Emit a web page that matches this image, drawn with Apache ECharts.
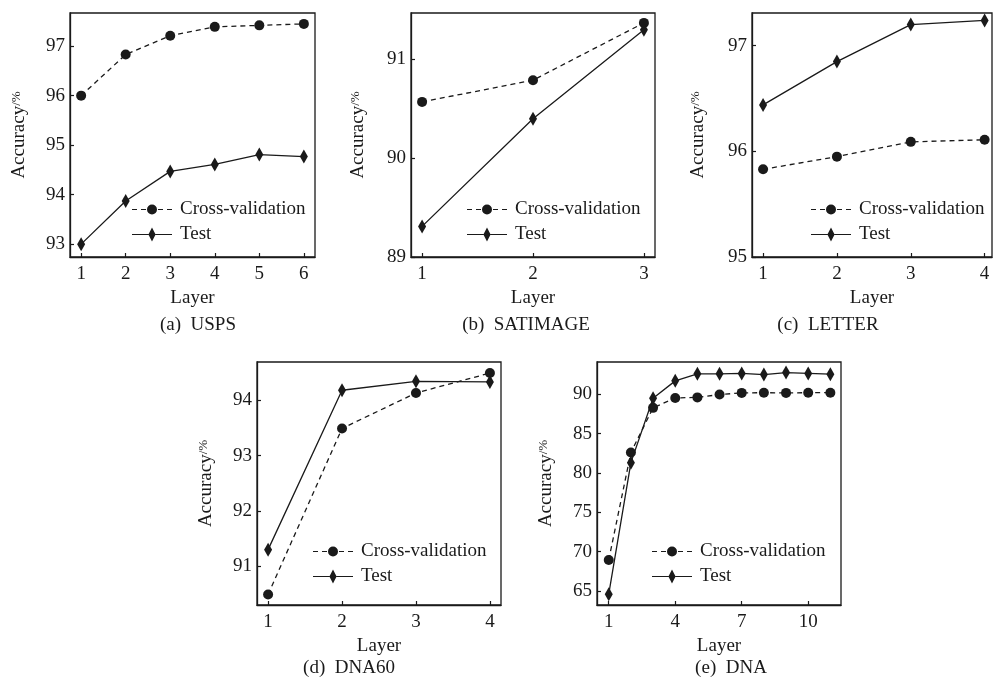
<!DOCTYPE html>
<html>
<head>
<meta charset="utf-8">
<script src="https://cdn.jsdelivr.net/npm/echarts@6/dist/echarts.min.js"></script>
<style>
  html, body { margin: 0; padding: 0; background: #fff; }
  #chart { width: 994px; height: 682px; }
</style>
</head>
<body>
<div id="chart"></div>
<script>
// 各子图的数据
const layersA = [1, 2, 3, 4, 5, 6];
const cvA = [96.0, 96.83, 97.21, 97.39, 97.42, 97.45];
const testA = [93.0, 93.87, 94.47, 94.61, 94.81, 94.77];

const layersB = [1, 2, 3];
const cvB = [90.57, 90.79, 91.37];
const testB = [89.31, 90.40, 91.30];

const layersC = [1, 2, 3, 4];
const cvC = [95.83, 95.95, 96.09, 96.11];
const testC = [96.44, 96.85, 97.20, 97.24];

const layersD = [1, 2, 3, 4];
const cvD = [90.49, 93.49, 94.13, 94.49];
const testD = [91.30, 94.18, 94.34, 94.33];

const layersE = [1, 2, 3, 4, 5, 6, 7, 8, 9, 10, 11];
const cvE = [68.93, 82.6, 88.27, 89.53, 89.6, 89.96, 90.17, 90.2, 90.17, 90.2, 90.2];
const testE = [64.58, 81.3, 89.5, 91.7, 92.6, 92.6, 92.65, 92.5, 92.75, 92.65, 92.55];

// 刻度
const xTicksA = [1, 2, 3, 4, 5, 6];
const yTicksA = [93, 94, 95, 96, 97];
const xTicksB = [1, 2, 3];
const yTicksB = [89, 90, 91];
const xTicksC = [1, 2, 3, 4];
const yTicksC = [95, 96, 97];
const xTicksD = [1, 2, 3, 4];
const yTicksD = [91, 92, 93, 94];
const xTicksE = [1, 4, 7, 10];
const yTicksE = [65, 70, 75, 80, 85, 90];

const captions = ['(a)  USPS', '(b)  SATIMAGE', '(c)  LETTER', '(d)  DNA60', '(e)  DNA'];
const seriesNames = ['Cross-validation', 'Test'];

// 布局（像素）
const panels = [
  { layers: layersA, cv: cvA, test: testA, xTicks: xTicksA, yTicks: yTicksA,
    grid: [70, 13, 245, 244], x: [0.75, 6.25], y: [92.74, 97.67], yGap: 41,
    legend: [132, 200], cap: [198, 325] },
  { layers: layersB, cv: cvB, test: testB, xTicks: xTicksB, yTicks: yTicksB,
    grid: [411, 13, 244, 244], x: [0.9, 3.1], y: [89, 91.47], yGap: 43,
    legend: [467, 200], cap: [526, 325] },
  { layers: layersC, cv: cvC, test: testC, xTicks: xTicksC, yTicks: yTicksC,
    grid: [752, 13, 240, 244], x: [0.85, 4.1], y: [95, 97.31], yGap: 44,
    legend: [811, 200], cap: [828, 325] },
  { layers: layersD, cv: cvD, test: testD, xTicks: xTicksD, yTicks: yTicksD,
    grid: [257, 362, 244, 243], x: [0.85, 4.15], y: [90.30, 94.69], yGap: 41,
    legend: [313, 542], cap: [349, 668] },
  { layers: layersE, cv: cvE, test: testE, xTicks: xTicksE, yTicks: yTicksE,
    grid: [597, 362, 244, 243], x: [0.47, 11.48], y: [63.2, 94.1], yGap: 41,
    legend: [652, 542], cap: [731, 668] }
];

const FONT = '"Liberation Serif", "DejaVu Serif", serif';
const INK = '#1a1a1a';
const diamond = 'path://M4,0 L8,7 L4,14 L0,7 Z';
// 图例图标：线段 + 标记
const cvIcon = 'path://M0,6.4 H5 V7.6 H0 Z M9,6.4 H14 V7.6 H9 Z M25,7 A5,5 0 1,1 15,7 A5,5 0 1,1 25,7 Z M26,6.4 H31 V7.6 H26 Z M35,6.4 H40 V7.6 H35 Z';
const testIcon = 'path://M0,6.4 H16.5 V7.6 H0 Z M20,0 L23.6,7 L20,14 L16.4,7 Z M23.5,6.4 H40 V7.6 H23.5 Z';

const chart = echarts.init(document.getElementById('chart'));

const grids = [], xAxes = [], yAxes = [], series = [], legends = [], graphics = [];

panels.forEach((p, i) => {
  grids.push({
    left: p.grid[0], top: p.grid[1], width: p.grid[2], height: p.grid[3],
    show: true, borderColor: INK, borderWidth: 1.3, backgroundColor: 'transparent'
  });
  xAxes.push({
    gridIndex: i, type: 'value', min: p.x[0], max: p.x[1],
    name: 'Layer', nameLocation: 'middle', nameGap: 32,
    nameTextStyle: { fontFamily: FONT, fontSize: 19, color: INK },
    axisLine: { show: true, lineStyle: { color: INK, width: 1.3 } },
    axisTick: { inside: true, length: 4, customValues: p.xTicks, lineStyle: { color: INK, width: 1.2 } },
    axisLabel: { customValues: p.xTicks, margin: 8, fontFamily: FONT, fontSize: 19, color: INK },
    splitLine: { show: false }
  });
  yAxes.push({
    gridIndex: i, type: 'value', min: p.y[0], max: p.y[1],
    name: '{a|Accuracy}{b|/%}', nameLocation: 'middle', nameRotate: 90, nameGap: p.yGap,
    nameTextStyle: {
      fontFamily: FONT, color: INK,
      rich: {
        a: { fontFamily: FONT, fontSize: 19, color: INK },
        b: { fontFamily: FONT, fontSize: 13, color: INK, verticalAlign: 'top', padding: [0, 0, 4, 0] }
      }
    },
    axisLine: { show: true, lineStyle: { color: INK, width: 1.3 } },
    axisTick: { inside: true, length: 4, customValues: p.yTicks, lineStyle: { color: INK, width: 1.2 } },
    axisLabel: { customValues: p.yTicks, margin: 5, fontFamily: FONT, fontSize: 19, color: INK },
    splitLine: { show: false }
  });
  series.push({
    name: seriesNames[0], type: 'line', xAxisIndex: i, yAxisIndex: i,
    data: p.layers.map((l, k) => [l, p.cv[k]]),
    symbol: 'circle', symbolSize: 10,
    lineStyle: { color: INK, width: 1.3, type: [5, 4] },
    itemStyle: { color: INK },
    z: 3
  });
  series.push({
    name: seriesNames[1], type: 'line', xAxisIndex: i, yAxisIndex: i,
    data: p.layers.map((l, k) => [l, p.test[k]]),
    symbol: diamond, symbolSize: [8, 14],
    lineStyle: { color: INK, width: 1.3, type: 'solid' },
    itemStyle: { color: INK },
    z: 4
  });
  legends.push({
    data: [
      { name: seriesNames[0], icon: cvIcon },
      { name: seriesNames[1], icon: testIcon }
    ],
    orient: 'vertical', left: p.legend[0], top: p.legend[1],
    padding: 0, itemWidth: 40, itemHeight: 14, itemGap: 6, selectedMode: false,
    itemStyle: { color: INK, borderWidth: 0 },
    textStyle: { fontFamily: FONT, fontSize: 19, color: INK, padding: [0, 0, 0, 3] }
  });
  graphics.push({
    type: 'text', x: p.cap[0], y: p.cap[1],
    style: { text: captions[i], font: '19px ' + FONT, fill: INK, align: 'center', verticalAlign: 'middle' }
  });
});

chart.setOption({
  backgroundColor: '#fff',
  animation: false,
  grid: grids,
  xAxis: xAxes,
  yAxis: yAxes,
  legend: legends,
  series: series,
  graphic: graphics
});
</script>
</body>
</html>
